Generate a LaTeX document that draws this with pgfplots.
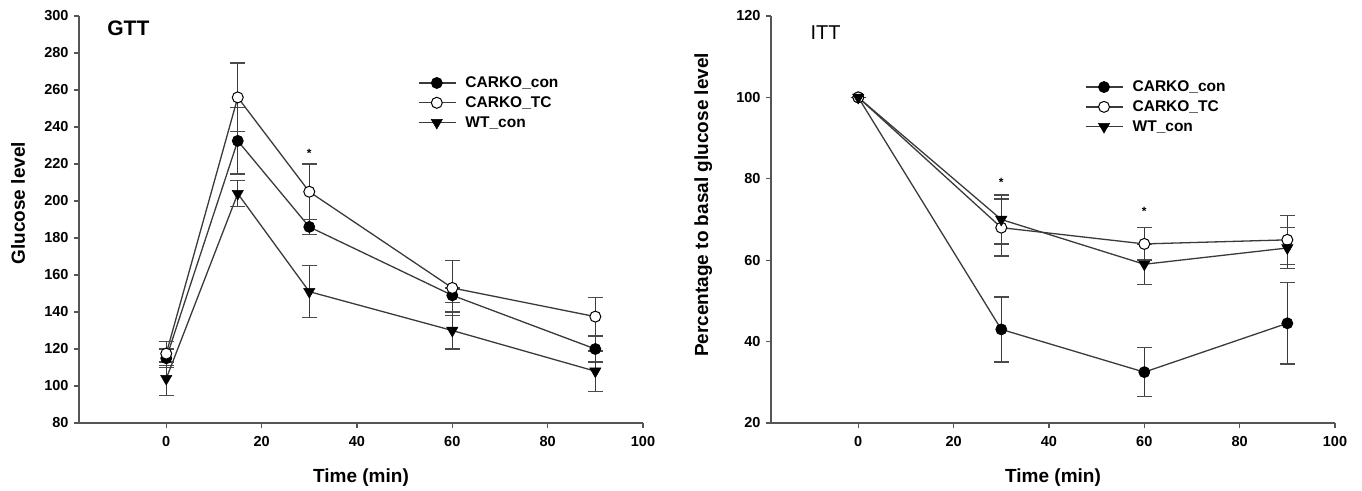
\documentclass[border=0pt]{standalone}
\usepackage{pgfplots}
\pgfplotsset{compat=1.18}
\usepackage{fontspec}
\setmainfont{Liberation Sans}
\definecolor{ln}{HTML}{3A3A3A}
\definecolor{ax}{HTML}{555555}
\definecolor{eb}{HTML}{4A4A4A}
\pgfplotsset{
  myaxis/.style={
    scale only axis, width=564pt, height=407pt,
    axis lines=left, axis line style={-, ax, line width=1.2pt},
    xmin=-18.3, xmax=100, xtick={0,20,...,100},
    tick align=outside, major tick length=5pt,
    tick style={ax, line width=1.2pt},
    /pgf/number format/assume math mode=true,
    ticklabel style={font=\fontsize{14.5}{17}\selectfont\bfseries},
    yticklabel style={xshift=-2pt},
    xticklabel style={yshift=-5pt},
    label style={font=\fontsize{19}{22}\selectfont\bfseries},
    xlabel={Time (min)},
    xlabel style={at={(axis description cs:0.5,-0.135)}, anchor=center},
    legend cell align=left,
    legend style={draw=none, fill=none, font=\fontsize{15.5}{18}\selectfont\bfseries, row sep=3.5pt, anchor=north west, inner sep=0pt},
    legend image code/.code={\draw[mark repeat=2,mark phase=2] plot coordinates {(0pt,0pt) (18pt,0pt) (37pt,0pt)};\path (44pt,0pt);},
  },
  eb/.style={
    error bars/y dir=both, error bars/y explicit,
    error bars/error bar style={eb, line width=1.4pt},
    error bars/error mark options={rotate=90, mark size=7.5pt, line width=1.4pt, eb},
  },
  s1/.style={eb, ln, line width=1.3pt, mark=*, mark size=5.5pt, mark options={black, fill=black, line width=0.8pt}},
  s2/.style={eb, ln, line width=1.3pt, mark=*, mark size=5.5pt, mark options={black, fill=white, line width=1pt}},
  s3/.style={eb, ln, line width=1.3pt, mark=triangle*, mark size=6.5pt, mark options={black, fill=black, rotate=180, line width=0.5pt}},
}
\begin{document}
\begin{tikzpicture}
\useasboundingbox (0pt,0pt) rectangle (1362pt,490pt);
% ---------------- GTT ----------------
\begin{axis}[myaxis, at={(79pt,67pt)}, anchor=south west,
  ymin=80, ymax=300, ytick={80,100,...,300},
  ylabel={Glucose level},
  ylabel style={at={(axis description cs:-0.108,0.54)}, anchor=center, rotate=0},
  legend style={at={(rel axis cs:0.601,0.856)}},
]
\addplot+[s1] coordinates {
  (0,115) +- (0,5)
  (15,232.5) +- (0,18)
  (30,186) +- (0,4)
  (60,149) +- (0,4)
  (90,120) +- (0,7)
};
\addlegendentry{CARKO\_con}
\addplot+[s2] coordinates {
  (0,117.5) +- (0,6.5)
  (15,256) +- (0,18.5)
  (30,205) +- (0,15)
  (60,153) +- (0,15)
  (90,137.5) +- (0,10.5)
};
\addlegendentry{CARKO\_TC}
\addplot+[s3] coordinates {
  (0,104) +- (0,9)
  (15,204) +- (0,7)
  (30,151) +- (0,14)
  (60,130) +- (0,10)
  (90,108) +- (0,11)
};
\addlegendentry{WT\_con}
\node[font=\fontsize{12}{12}\selectfont\bfseries] at (axis cs:30,226) {*};
\node[anchor=west, font=\fontsize{21}{24}\selectfont\bfseries] at (rel axis cs:0.044,0.97) {GTT};
\end{axis}
% ---------------- ITT ----------------
\begin{axis}[myaxis, at={(771pt,67pt)}, anchor=south west,
  ymin=20, ymax=120, ytick={20,40,...,120},
  ylabel={Percentage to basal glucose level},
  ylabel style={at={(axis description cs:-0.12,0.536)}, anchor=center, rotate=0},
  legend style={at={(rel axis cs:0.557,0.846)}},
]
\addplot+[s1] coordinates {
  (0,100) +- (0,0)
  (30,43) +- (0,8)
  (60,32.5) +- (0,6)
  (90,44.5) +- (0,10)
};
\addlegendentry{CARKO\_con}
\addplot+[s2] coordinates {
  (0,100) +- (0,0)
  (30,68) +- (0,7)
  (60,64) +- (0,4)
  (90,65) +- (0,6)
};
\addlegendentry{CARKO\_TC}
\addplot+[s3] coordinates {
  (0,100) +- (0,0)
  (30,70) +- (0,6)
  (60,59) +- (0,5)
  (90,63) +- (0,5)
};
\addlegendentry{WT\_con}
\node[font=\fontsize{12}{12}\selectfont\bfseries] at (axis cs:30,79) {*};
\node[font=\fontsize{12}{12}\selectfont\bfseries] at (axis cs:60,72) {*};
\node[anchor=west, font=\fontsize{20}{24}\selectfont] at (rel axis cs:0.064,0.958) {ITT};
\end{axis}
\end{tikzpicture}
\end{document}
